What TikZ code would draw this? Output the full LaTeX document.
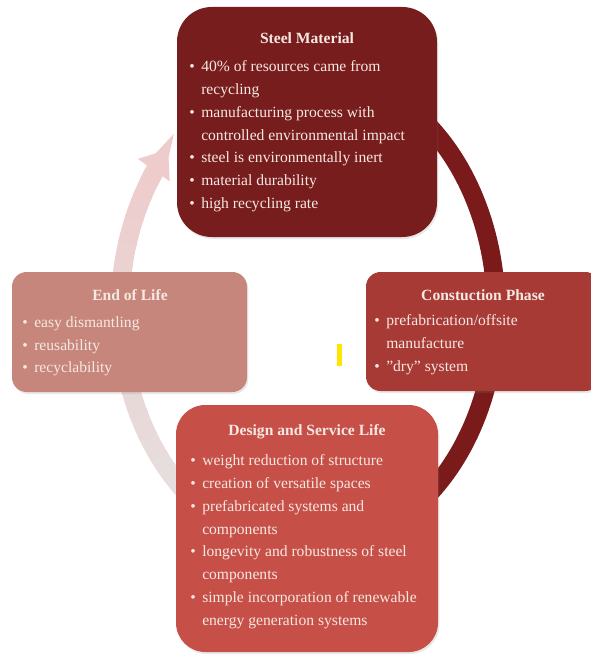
\documentclass[tikz,border=0pt]{standalone}
\usepackage{fontspec}
\setmainfont{Liberation Serif}
\usetikzlibrary{arrows.meta,fit,shadows}
\definecolor{steelc}{RGB}{120,29,29}
\definecolor{constc}{RGB}{168,58,54}
\definecolor{designc}{RGB}{198,80,72}
\definecolor{eolc}{RGB}{199,134,123}
\definecolor{txtc}{RGB}{246,232,226}
\definecolor{ringdark}{RGB}{122,26,26}
\definecolor{palestart}{RGB}{228,226,226}
\definecolor{paleend}{RGB}{238,204,204}
\definecolor{markc}{RGB}{255,228,0}
\newcommand{\bl}{\makebox[9pt][l]{\textbullet}}
\newcommand{\ind}{\hspace*{9pt}}
\tikzset{
  boxnode/.style={inner sep=0pt, draw=none, drop shadow={opacity=0.18, shadow xshift=1pt, shadow yshift=-1.5pt}},
  titlenode/.style={text=txtc, font=\fontsize{11.7}{14}\selectfont\bfseries, inner sep=0pt},
  listnode/.style={text=txtc, font=\fontsize{11.7}{17.2}\selectfont, align=left, inner sep=0pt, anchor=north west},
  ringline/.style={line width=14pt},
}
\begin{document}
\begin{tikzpicture}[x=0.75pt,y=-0.75pt]
\useasboundingbox (0,0) rectangle (591,660);
% ring
\draw[ringline, ringdark] (308,310) ++(-112:188 and 240) arc[start angle=-112, end angle=112, x radius=188, y radius=240];
\foreach \a in {112,118,...,208}{
  \pgfmathsetmacro\p{(\a-112)/100*100}
  \draw[ringline, color=paleend!\p!palestart] (308,310) ++(\a:188 and 240) arc[start angle=\a, end angle=\a+7, x radius=188, y radius=240];
}
\draw[ringline, color=paleend, -{Triangle[width=28pt,length=19pt]}] (308,310) ++(212:188 and 240) arc[start angle=212, end angle=222, x radius=188, y radius=240];
% boxes
\node[boxnode, fill=steelc, rounded corners=26pt, fit={(177,7) (437,237)}] (steel) {};
\node[boxnode, fill=eolc, rounded corners=11pt, fit={(12,272) (247,392)}] (eol) {};
\node[boxnode, fill=constc, rounded corners=11pt, fit={(366,272) (600,391)}] (const) {};
\node[boxnode, fill=designc, rounded corners=22pt, fit={(176,405) (438,652)}] (design) {};
% titles
\node[titlenode] (steelt) at (307,38) {Steel Material};
\node[titlenode] (eolt) at (130,295) {End of Life};
\node[titlenode] (constt) at (483,295) {Constuction Phase};
\node[titlenode] (designt) at (307,432) {Design and Service Life};
% lists
\node[listnode] (steell) at (189,60) {\bl 40\% of resources came from\\ \ind recycling\\ \bl manufacturing process with\\ \ind controlled environmental impact\\ \bl steel is environmentally inert\\ \bl material durability\\ \bl high recycling rate};
\node[listnode] (eoll) at (22,316) {\bl easy dismantling\\ \bl reusability\\ \bl recyclability};
\node[listnode] (constl) at (374,314) {\bl prefabrication/offsite\\ \ind manufacture\\ \bl "dry" system};
\node[listnode] (designl) at (190,454) {\bl weight reduction of structure\\ \bl creation of versatile spaces\\ \bl prefabricated systems and\\ \ind components\\ \bl longevity and robustness of steel\\ \ind components\\ \bl simple incorporation of renewable\\ \ind energy generation systems};
% yellow mark
\node[fill=markc, inner sep=0pt, fit={(337,344) (342,366)}] (mark) {};
\end{tikzpicture}
\end{document}
